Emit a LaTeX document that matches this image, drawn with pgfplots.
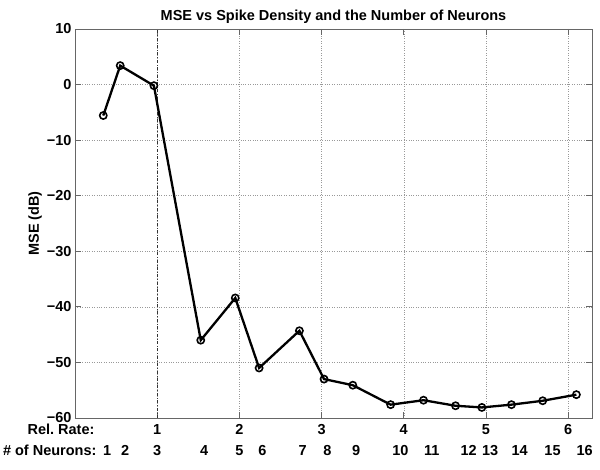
\documentclass[border=0pt]{standalone}
\usepackage{fontspec}
\setmainfont{Liberation Sans}
\usepackage{pgfplots}
\pgfplotsset{compat=1.18}
\newcommand{\lbl}{\fontsize{14.5}{17}\selectfont\bfseries}
\begin{document}
\begin{tikzpicture}[x=1pt,y=1pt]
\path[use as bounding box] (0,0) rectangle (600,470);
\begin{axis}[
  at={(75pt,52pt)}, anchor=south west,
  scale only axis, width=517pt, height=389pt,
  xmin=0, xmax=6.29, ymin=-60, ymax=10,
  xtick={1,2,3,4,5,6}, xticklabels={1,2,3,4,5,6},
  ytick={-60,-50,-40,-30,-20,-10,0,10},
  yticklabels={−60,−50,−40,−30,−20,−10,0,10},
  tick align=inside, major tick length=6pt,
  xmajorgrids, ymajorgrids,
  grid style={dotted, black!40, line width=0.5pt},
  axis line style={draw=black!60, line width=0.9pt},
  every tick/.style={black!60, line width=0.9pt},
  tick label style={font=\lbl},
  xticklabel style={anchor=base, yshift=-17pt},
  extra x ticks={0.39,0.61,1.0,1.57,2.0,2.28,2.77,3.07,3.42,3.96,4.34,4.79,5.05,5.41,5.81,6.2},
  extra x tick labels={1,2,3,4,5,6,7,8,9,10,11,12,13,14,15,16},
  extra x tick style={major tick length=0pt, grid=none, xticklabel style={yshift=-21pt}},
  title={MSE vs Spike Density and the Number of Neurons},
  title style={font=\lbl, at={(0.5,1)}, anchor=base, yshift=2pt},
  ylabel={MSE (dB)},
  ylabel style={font=\lbl, at={(axis description cs:-0.077,0.5)}, rotate=0, anchor=center},
  clip=false,
]
\addplot[black!80, dashdotted, line width=0.7pt, forget plot] coordinates {(1,-60) (1,10)};
\addplot[black, line width=2.3pt, mark=o, mark size=3.6pt, mark options={line width=1.6pt, solid}] coordinates {
(0.344,-5.57)
(0.55,3.41)
(0.96,-0.2)
(1.53,-46.0)
(1.95,-38.4)
(2.24,-51.0)
(2.73,-44.3)
(3.03,-53.0)
(3.38,-54.1)
(3.84,-57.6)
(4.24,-56.8)
(4.63,-57.8)
(4.95,-58.1)
(5.31,-57.6)
(5.69,-56.9)
(6.10,-55.8)
};
\node[font=\lbl, anchor=base east] at ([xshift=23pt,yshift=-17pt]rel axis cs:0,0) {Rel.\ Rate:};
\node[font=\lbl, anchor=base east] at ([xshift=25pt,yshift=-38pt]rel axis cs:0,0) {\# of Neurons:};
\end{axis}
\end{tikzpicture}
\end{document}
